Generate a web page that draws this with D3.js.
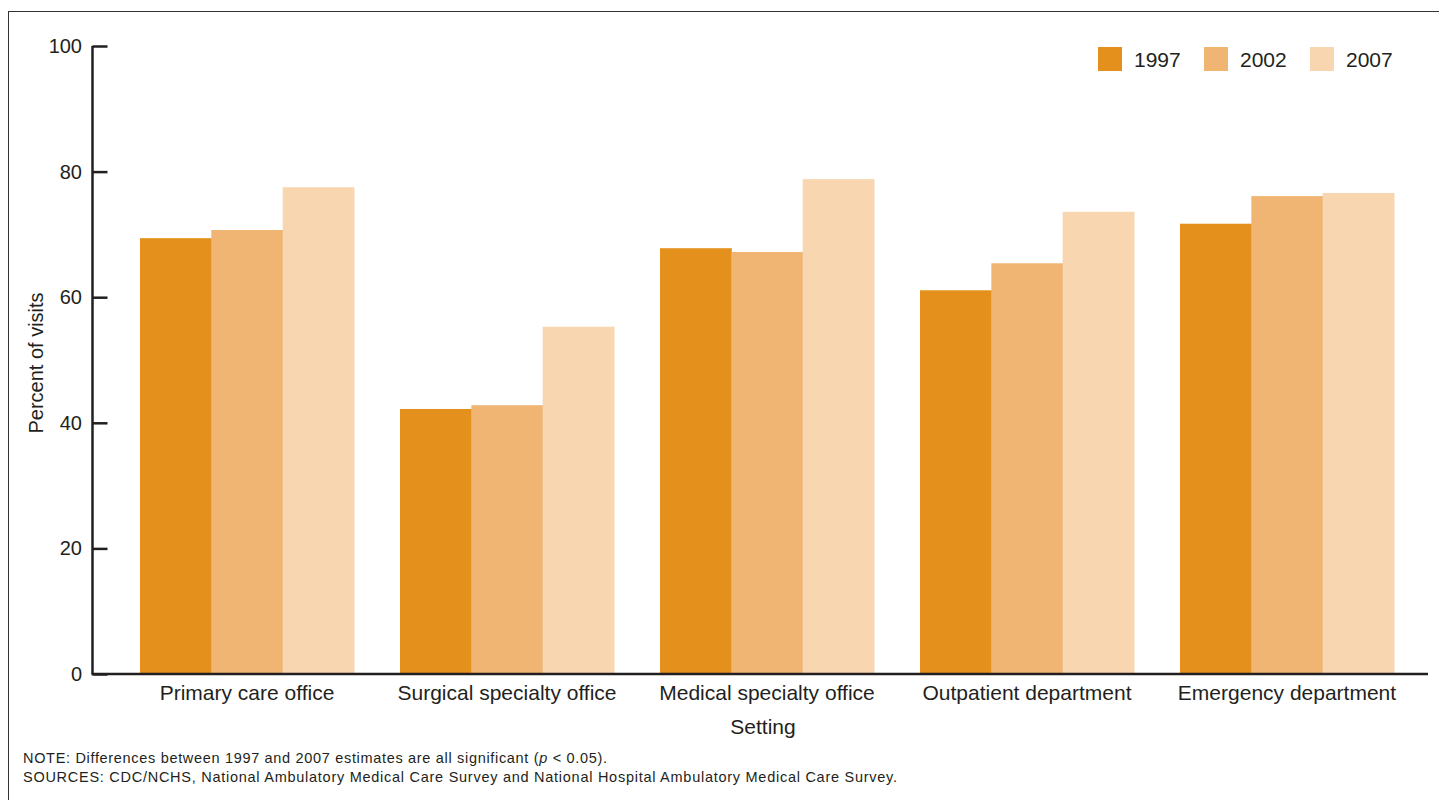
<!DOCTYPE html>
<html><head><meta charset="utf-8">
<script src="https://cdn.jsdelivr.net/npm/d3@7"></script>
<style>body{margin:0;background:#fff}svg{display:block;font-family:"Liberation Sans",Arial,sans-serif}</style>
</head><body>
<svg id="c" width="1439" height="800"></svg>
<script>
const categories = ["Primary care office","Surgical specialty office","Medical specialty office","Outpatient department","Emergency department"];
const years = ["1997","2002","2007"];
const values1997 = [69.4, 42.2, 67.8, 61.1, 71.7];
const values2002 = [70.7, 42.8, 67.2, 65.4, 76.1];
const values2007 = [77.5, 55.3, 78.8, 73.6, 76.6];
const colors = ["#e4901c","#f0b573","#f7d6b0"];
const yTicks = [0,20,40,60,80,100];

const series = [values1997, values2002, values2007];
const svg = d3.select("#c");
const textColor = "#231f20";

// frame
svg.append("rect").attr("x",8.5).attr("y",11.5).attr("width",1500).attr("height",900)
  .attr("fill","none").attr("stroke","#333").attr("stroke-width",1);

const y = d3.scaleLinear().domain([0,100]).range([674,46]);
const x0 = d3.scaleBand().domain(categories).range([117,1417]).paddingInner(46/260).paddingOuter(23/260);
const x1 = d3.scaleBand().domain(years).range([0,x0.bandwidth()]);

// bars
const g = svg.append("g");
categories.forEach((c,i)=>{
  years.forEach((yr,j)=>{
    g.append("rect")
      .attr("x", x0(c)+x1(yr))
      .attr("y", y(series[j][i]))
      .attr("width", x1.bandwidth()+0.5)
      .attr("height", y(0)-y(series[j][i]))
      .attr("fill", colors[j]);
  });
});

// y axis
const yAxis = d3.axisRight(y).tickValues(yTicks).tickSize(15).tickFormat("");
const ya = svg.append("g").attr("transform","translate(92.5,0)").call(yAxis);
ya.select(".domain").attr("stroke",textColor).attr("stroke-width",2.5).attr("d","M0,46V674");
ya.selectAll(".tick line").attr("stroke",textColor).attr("stroke-width",2.5);
yTicks.forEach(t=>{
  svg.append("text").attr("x",82).attr("y",y(t)+7).attr("text-anchor","end")
    .attr("font-size",20).attr("fill",textColor).text(t);
});

// x axis
svg.append("line").attr("x1",91.5).attr("x2",1428).attr("y1",674).attr("y2",674)
  .attr("stroke",textColor).attr("stroke-width",2.5);
const xa = svg.append("g").attr("transform","translate(0,674)")
  .call(d3.axisBottom(x0).tickSize(0).tickPadding(0));
xa.select(".domain").remove();
xa.selectAll(".tick text").attr("font-size",21).attr("fill",textColor)
  .attr("font-family","Liberation Sans, Arial, sans-serif").attr("dy",null).attr("y",26);

// axis titles
svg.append("text").attr("x",763).attr("y",734).attr("text-anchor","middle")
  .attr("font-size",21).attr("fill",textColor).text("Setting");
svg.append("text").attr("transform","translate(43,363) rotate(-90)").attr("text-anchor","middle")
  .attr("font-size",20).attr("fill",textColor).text("Percent of visits");

// legend
const legX = [1098,1204,1310];
years.forEach((yr,j)=>{
  svg.append("rect").attr("x",legX[j]).attr("y",47).attr("width",24).attr("height",24).attr("fill",colors[j]);
  svg.append("text").attr("x",legX[j]+36).attr("y",67).attr("font-size",21).attr("fill",textColor).text(yr);
});

// notes
const note = svg.append("text").attr("x",23).attr("y",763).attr("font-size",14.5).attr("fill",textColor)
  .attr("textLength",584).attr("lengthAdjust","spacing");
note.append("tspan").text("NOTE: Differences between 1997 and 2007 estimates are all significant (");
note.append("tspan").attr("font-style","italic").text("p");
note.append("tspan").text(" < 0.05).");
svg.append("text").attr("x",23).attr("y",782).attr("font-size",14.5).attr("fill",textColor)
  .attr("textLength",874).attr("lengthAdjust","spacing")
  .text("SOURCES: CDC/NCHS, National Ambulatory Medical Care Survey and National Hospital Ambulatory Medical Care Survey.");
</script>
</body></html>
